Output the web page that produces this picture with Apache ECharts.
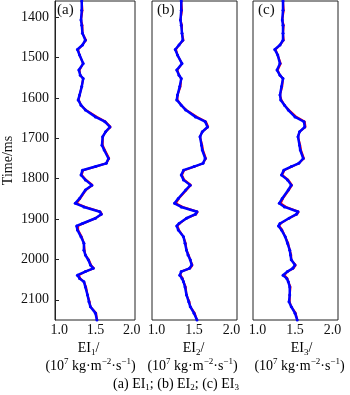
<!DOCTYPE html>
<html>
<head>
<meta charset="utf-8">
<script src="https://cdn.jsdelivr.net/npm/echarts@6/dist/echarts.min.js"></script>
<style>
  html, body {margin: 0; padding: 0; background: #fff;}
  #chart {width: 350px; height: 395px;}
</style>
</head>
<body>
<div id="chart"></div>
<script>
// 時間 (ms)
const times = [1360, 1383, 1407, 1420, 1440, 1457, 1469, 1480, 1494, 1515, 1531, 1544, 1552, 1572, 1593, 1605,
    1618, 1630, 1647, 1659, 1672, 1684, 1696, 1717, 1729, 1750, 1762, 1770, 1779, 1791, 1803, 1816, 1828,
    1849, 1861, 1870, 1882, 1888, 1898, 1911, 1917, 1927, 1944, 1960, 1977, 1989, 2001, 2014, 2022, 2030,
    2039, 2047, 2055, 2068, 2088, 2105, 2117, 2133, 2150];

// 反演結果 (藍) 與 真實值 (紅)
const blueA = [1.31, 1.31, 1.30, 1.31, 1.32, 1.36, 1.32, 1.25, 1.28, 1.33, 1.27, 1.29, 1.33, 1.31, 1.28, 1.26,
    1.30, 1.36, 1.50, 1.63, 1.70, 1.64, 1.60, 1.59, 1.62, 1.68, 1.65, 1.50, 1.32, 1.30, 1.36, 1.45, 1.36,
    1.28, 1.22, 1.34, 1.56, 1.58, 1.50, 1.32, 1.24, 1.25, 1.30, 1.34, 1.34, 1.36, 1.40, 1.43, 1.47, 1.36,
    1.25, 1.28, 1.34, 1.36, 1.39, 1.41, 1.43, 1.50, 1.52];
const redA = [1.31, 1.32, 1.30, 1.32, 1.32, 1.37, 1.32, 1.26, 1.28, 1.33, 1.28, 1.29, 1.33, 1.31, 1.28, 1.27,
    1.30, 1.37, 1.52, 1.64, 1.71, 1.64, 1.60, 1.60, 1.63, 1.69, 1.65, 1.51, 1.33, 1.31, 1.37, 1.46, 1.37,
    1.29, 1.24, 1.36, 1.57, 1.59, 1.50, 1.33, 1.26, 1.26, 1.31, 1.34, 1.35, 1.36, 1.41, 1.44, 1.48, 1.36,
    1.27, 1.29, 1.34, 1.37, 1.39, 1.42, 1.43, 1.51, 1.52];

const blueB = [1.33, 1.33, 1.32, 1.33, 1.34, 1.35, 1.30, 1.25, 1.28, 1.34, 1.27, 1.30, 1.33, 1.31, 1.28, 1.27,
    1.33, 1.39, 1.52, 1.65, 1.68, 1.61, 1.58, 1.60, 1.61, 1.65, 1.62, 1.50, 1.36, 1.33, 1.36, 1.45, 1.39,
    1.29, 1.24, 1.33, 1.54, 1.52, 1.40, 1.30, 1.27, 1.29, 1.36, 1.38, 1.40, 1.42, 1.45, 1.47, 1.44, 1.33,
    1.31, 1.34, 1.36, 1.38, 1.40, 1.43, 1.45, 1.50, 1.54];
const redB = [1.33, 1.34, 1.32, 1.34, 1.34, 1.36, 1.30, 1.26, 1.28, 1.34, 1.28, 1.30, 1.33, 1.32, 1.28, 1.28,
    1.33, 1.40, 1.54, 1.66, 1.69, 1.61, 1.58, 1.61, 1.62, 1.66, 1.62, 1.51, 1.37, 1.34, 1.37, 1.46, 1.40,
    1.30, 1.26, 1.35, 1.55, 1.53, 1.40, 1.31, 1.28, 1.30, 1.36, 1.39, 1.40, 1.43, 1.45, 1.48, 1.45, 1.33,
    1.32, 1.35, 1.36, 1.39, 1.40, 1.44, 1.45, 1.51, 1.54];

const blueC = [1.34, 1.34, 1.33, 1.34, 1.34, 1.34, 1.30, 1.23, 1.27, 1.30, 1.26, 1.30, 1.34, 1.32, 1.30, 1.31,
    1.36, 1.41, 1.50, 1.62, 1.63, 1.56, 1.54, 1.56, 1.57, 1.61, 1.55, 1.45, 1.35, 1.32, 1.40, 1.45, 1.41,
    1.33, 1.29, 1.36, 1.54, 1.52, 1.42, 1.30, 1.28, 1.32, 1.37, 1.40, 1.43, 1.44, 1.45, 1.50, 1.47, 1.40,
    1.34, 1.39, 1.41, 1.43, 1.43, 1.42, 1.45, 1.50, 1.53];
const redC = [1.34, 1.35, 1.33, 1.35, 1.34, 1.35, 1.30, 1.24, 1.27, 1.31, 1.27, 1.30, 1.34, 1.33, 1.30, 1.32,
    1.36, 1.42, 1.52, 1.63, 1.64, 1.56, 1.54, 1.57, 1.58, 1.62, 1.55, 1.46, 1.36, 1.33, 1.41, 1.46, 1.42,
    1.34, 1.31, 1.38, 1.55, 1.53, 1.42, 1.31, 1.29, 1.33, 1.37, 1.41, 1.43, 1.45, 1.45, 1.51, 1.48, 1.40,
    1.36, 1.40, 1.41, 1.44, 1.43, 1.43, 1.45, 1.51, 1.53];

const xTicks = [1.0, 1.5, 2.0];
const yTicks = [1400, 1500, 1600, 1700, 1800, 1900, 2000, 2100];

const font = "'Liberation Serif', 'DejaVu Serif', serif";

const grids = [
    {left: 52, top: 1, width: 83, height: 319},
    {left: 152, top: 1, width: 85, height: 319},
    {left: 253, top: 1, width: 85, height: 319}
];
// 軸標題的水平偏移
const nameShift = [-5, -1, 6];
const unitShift = [-3, -2, 4];

const pair = (vals) => vals.map((v, i) => [v, times[i]]);

const xAxes = grids.map((g, i) => ({
    type: 'value',
    gridIndex: i,
    min: 0.94,
    max: 0.94 + g.width / 75,
    axisLine: {show: false},
    axisTick: {show: false},
    splitLine: {show: false},
    axisLabel: {
        customValues: xTicks,
        margin: 3,
        color: '#111',
        fontFamily: font,
        fontSize: 14,
        formatter: v => v.toFixed(1)
    }
}));

const yAxes = grids.map((g, i) => ({
    type: 'value',
    gridIndex: i,
    inverse: true,
    min: 1360,
    max: 2150,
    show: i === 0,
    name: i === 0 ? 'Time/ms' : '',
    nameLocation: 'middle',
    nameGap: 40,
    nameTextStyle: {color: '#111', fontFamily: font, fontSize: 14},
    axisLine: {show: true, lineStyle: {color: '#222'}},
    splitLine: {show: false},
    axisTick: {show: true, inside: true, length: 4, customValues: yTicks, lineStyle: {color: '#222'}},
    axisLabel: {customValues: yTicks, margin: 6, color: '#111', fontFamily: font, fontSize: 14,
        formatter: v => String(v)}
}));

const curves = [[redA, blueA], [redB, blueB], [redC, blueC]];
const series = [];
curves.forEach(([red, blue], i) => {
    series.push({
        type: 'line', xAxisIndex: i, yAxisIndex: i, data: pair(red),
        showSymbol: false, lineStyle: {color: '#ff0000', width: 2}, silent: true
    });
    series.push({
        type: 'line', xAxisIndex: i, yAxisIndex: i, data: pair(blue),
        symbol: 'circle', symbolSize: 3, itemStyle: {color: '#0000ff'},
        lineStyle: {color: '#0000ff', width: 2.5}, silent: true
    });
});

const rich = {
    n: {fontFamily: font, fontSize: 14, color: '#111', lineHeight: 18},
    sub: {fontFamily: font, fontSize: 9, color: '#111', lineHeight: 18, verticalAlign: 'bottom'},
    sup: {fontFamily: font, fontSize: 9, color: '#111', lineHeight: 18, verticalAlign: 'top'},
    c: {fontFamily: font, fontSize: 14, color: '#111', lineHeight: 16},
    cs: {fontFamily: font, fontSize: 9, color: '#111', lineHeight: 16, verticalAlign: 'bottom'}
};

const graphic = [];
['a', 'b', 'c'].forEach((k, i) => {
    const g = grids[i];
    const cx = g.left + g.width / 2;
    graphic.push({type: 'text', left: g.left + 5, top: 3,
        style: {text: '(' + k + ')', font: '15px ' + font, fill: '#111'}});
    graphic.push({type: 'text', x: cx + nameShift[i], y: 339,
        style: {text: '{n|EI}{sub|' + (i + 1) + '}{n|/}', rich: rich, align: 'center'}});
    graphic.push({type: 'text', x: cx + unitShift[i], y: 357,
        style: {text: '{n|(10}{sup|7}{n| kg·m}{sup|−2}{n|·s}{sup|−1}{n|)}', rich: rich, align: 'center'}});
});
graphic.push({type: 'text', x: 176, y: 376,
    style: {text: '{c|(a) EI}{cs|1}{c|; (b) EI}{cs|2}{c|; (c) EI}{cs|3}', rich: rich, align: 'center'}});

const chart = echarts.init(document.getElementById('chart'));
chart.setOption({
    animation: false,
    grid: grids.map(g => Object.assign({show: true, borderColor: '#222', borderWidth: 1}, g)),
    xAxis: xAxes,
    yAxis: yAxes,
    series: series,
    graphic: graphic
});
</script>
</body>
</html>
